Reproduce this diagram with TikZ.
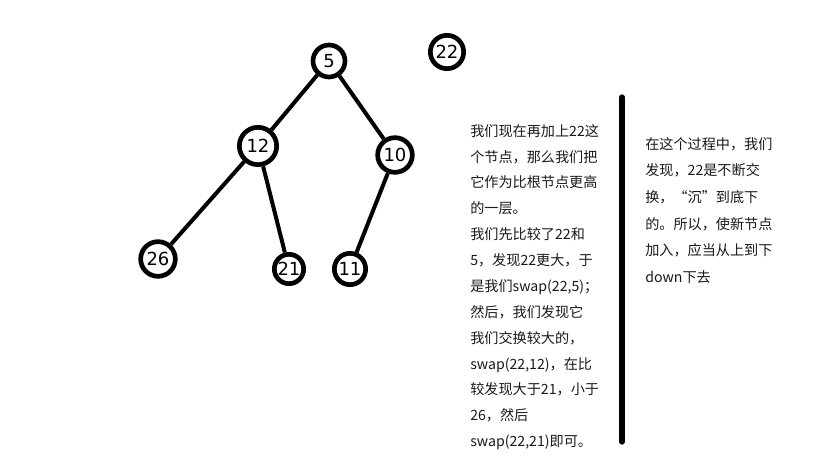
\documentclass[tikz,border=0pt]{standalone}
\usepackage{fontspec}
\setmainfont{Noto Sans CJK SC}
\newfontfamily\numfont{DejaVu Sans}
\begin{document}
\begin{tikzpicture}[x=0.75pt,y=-0.75pt,
  hnode/.style={circle,draw,line width=3.5pt,inner sep=0pt,font=\numfont\fontsize{13.5}{13.5}\selectfont},
  edge/.style={line width=3pt},
  para/.style={anchor=north west,inner sep=0pt,align=left,text=black!90},
  bar/.style={line width=4pt,line cap=round}]
\path[use as bounding box] (0,0) rectangle (819,460);
\node[hnode,minimum size=24pt] (n5) at (329,61) {5};
\node[hnode,minimum size=25pt] (n22) at (447,52) {22};
\node[hnode,minimum size=28pt] (n12) at (258,146) {12};
\node[hnode,minimum size=26pt] (n10) at (395,155) {10};
\node[hnode,minimum size=26pt] (n26) at (158,259) {26};
\node[hnode,minimum size=22pt] (n21) at (289,269) {21};
\node[hnode,minimum size=23.5pt] (n11) at (350,269) {11};
\draw[edge] (n5) -- (n12);
\draw[edge] (n5) -- (n10);
\draw[edge] (n12) -- (n26);
\draw[edge] (n12) -- (n21);
\draw[edge] (n10) -- (n11);
\coordinate (bt) at (622,97);
\coordinate (bb) at (622,442);
\draw[bar] (bt) -- (bb);
\node[para,font=\fontsize{10.6}{19.4}\selectfont] (t1) at (470,124) {我们现在再加上22这\\个节点，那么我们把\\它作为比根节点更高\\的一层。\\我们先比较了22和\\5，发现22更大，于\\是我们swap(22,5)；\\然后，我们发现它\\我们交换较大的，\\swap(22,12)，在比\\较发现大于21，小于\\26，然后\\swap(22,21)即可。};
\node[para,font=\fontsize{10.6}{20}\selectfont] (t2) at (645,137) {在这个过程中，我们\\发现，22是不断交\\换，“沉”到底下\\的。所以，使新节点\\加入，应当从上到下\\down下去};
\end{tikzpicture}
\end{document}
